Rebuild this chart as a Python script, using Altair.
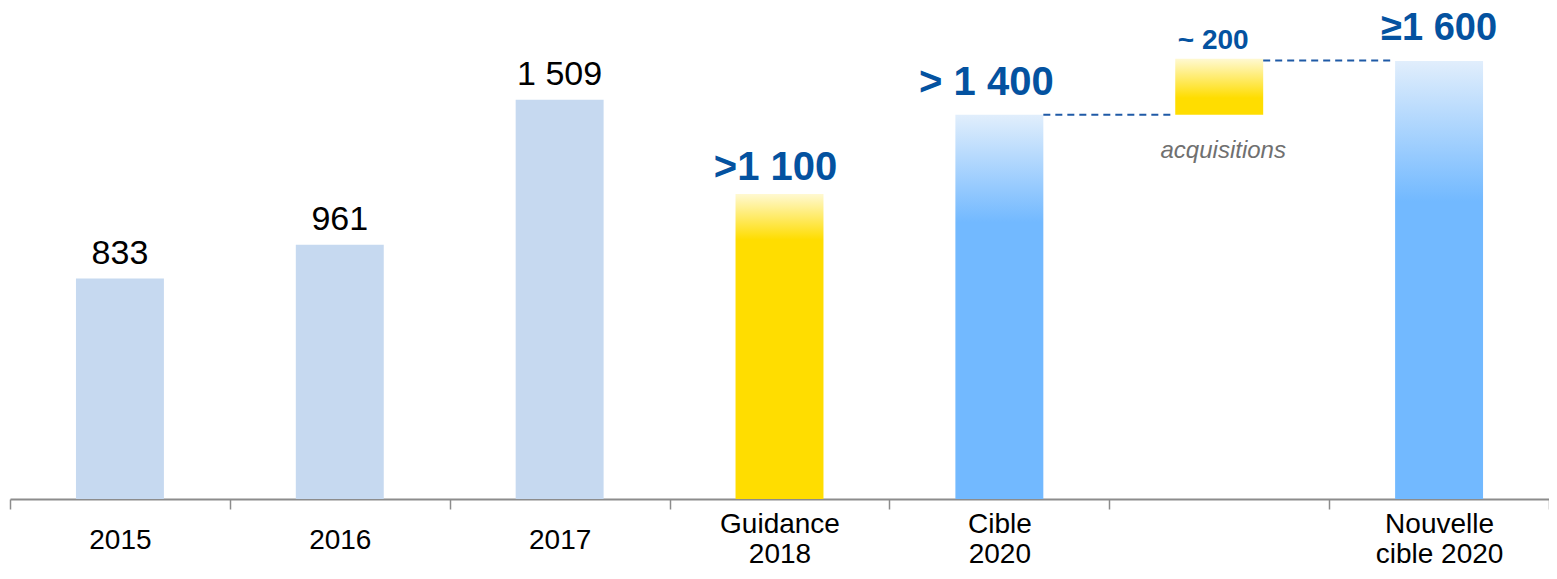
import altair as alt
import pandas as pd

# ---- data ----
categories = ["2015", "2016", "2017", "Guidance|2018", "Cible|2020", "acq", "Nouvelle|cible 2020"]

hist_cats = ["2015", "2016", "2017"]
hist_values = [833, 961, 1509]
hist_labels = ["833", "961", "1 509"]

guidance_value = 1153
guidance_label = ">1 100"

cible_value = 1452
cible_label = "> 1 400"

acq_start = 1452
acq_end = 1664
acq_label = "~ 200"
acq_caption = "acquisitions"

nouvelle_value = 1655
nouvelle_label = "≥1 600"

# dashed connectors: (from category, to category, level)
connectors = [("Cible|2020", "acq", 1452), ("acq", "Nouvelle|cible 2020", 1657)]

# ---- styling ----
FONT = "Liberation Sans"
BLUE_TXT = "#0452A0"
HIST_COLOR = "#C6D9F0"
YELLOW = "#FFDD00"
YELLOW_PALE = "#FFF9D2"
BLUE = "#72B9FF"
BLUE_PALE = "#E1EEFC"

W, H = 1539, 490
YMAX = 1852

xscale = alt.Scale(domain=categories, paddingInner=0, paddingOuter=0)
yscale = alt.Scale(domain=[0, YMAX])

label_expr = ("!isValid(datum.value) || datum.value == 'acq' ? '' : "
              "(indexof(datum.value, '|') >= 0 ? split(datum.value, '|') : datum.value)")
two_line = "isValid(datum.value) && indexof(datum.value, '|') >= 0"

x_axis = alt.Axis(
    title=None, labelExpr=label_expr, labelAngle=0, labelFont=FONT, labelFontSize=28,
    labelColor="#000000", labelLineHeight=30, labelBaseline="middle",
    labelPadding={"condition": {"test": two_line, "value": 15}, "value": 31},
    tickBand="extent", tickSize=10, tickColor="#8C8C8C", tickWidth=1.5,
    domainColor="#8C8C8C", domainWidth=2, labelOverlap=False, labelBound=False,
    grid=False,
)

X = alt.X("cat:N", scale=xscale, axis=x_axis, sort=categories)
Y = alt.Y("v:Q", scale=yscale, axis=None)


def grad(pale, solid, stop):
    return alt.Gradient(
        gradient="linear",
        stops=[alt.GradientStop(color=pale, offset=0),
               alt.GradientStop(color=solid, offset=stop),
               alt.GradientStop(color=solid, offset=1)],
        x1=0, x2=0, y1=0, y2=1,
    )


hist_df = pd.DataFrame({"cat": hist_cats, "v": hist_values, "lab": hist_labels})
guid_df = pd.DataFrame({"cat": ["Guidance|2018"], "v": [guidance_value], "lab": [guidance_label]})
cible_df = pd.DataFrame({"cat": ["Cible|2020"], "v": [cible_value], "lab": [cible_label]})
nouv_df = pd.DataFrame({"cat": ["Nouvelle|cible 2020"], "v": [nouvelle_value], "lab": [nouvelle_label]})
acq_df = pd.DataFrame({"cat": ["acq"], "v": [acq_start], "v2": [acq_end],
                       "lab": [acq_label], "cap": [acq_caption]})
conn_df = pd.DataFrame({"a": [c[0] for c in connectors], "b": [c[1] for c in connectors],
                        "v": [c[2] for c in connectors]})

BW = alt.RelativeBandSize(0.4)

hist_bars = alt.Chart(hist_df).mark_bar(width=BW, color=HIST_COLOR).encode(x=X, y=Y)
hist_text = alt.Chart(hist_df).mark_text(
    font=FONT, fontSize=34, color="#000000", baseline="alphabetic", dy=-15
).encode(x=X, y=Y, text="lab:N")

guid_bar = alt.Chart(guid_df).mark_bar(width=BW, color=grad(YELLOW_PALE, YELLOW, 0.15)).encode(x=X, y=Y)
cible_bar = alt.Chart(cible_df).mark_bar(width=BW, color=grad(BLUE_PALE, BLUE, 0.28)).encode(x=X, y=Y)
nouv_bar = alt.Chart(nouv_df).mark_bar(width=BW, color=grad(BLUE_PALE, BLUE, 0.32)).encode(x=X, y=Y)
acq_bar = alt.Chart(acq_df).mark_bar(width=BW, color=grad(YELLOW_PALE, YELLOW, 0.7)).encode(
    x=X, y=Y, y2="v2:Q")


def big_label(df, dy, dx=0, size=40):
    return alt.Chart(df).mark_text(
        font=FONT, fontSize=size, fontWeight="bold", color=BLUE_TXT,
        baseline="alphabetic", dy=dy, dx=dx
    ).encode(x=X, y=Y, text="lab:N")


guid_text = big_label(guid_df, -14, -4)
cible_text = big_label(cible_df, -20, -13)
nouv_text = big_label(nouv_df, -21, 0, size=38)
acq_text = alt.Chart(acq_df).mark_text(
    font=FONT, fontSize=28, fontWeight="bold", color=BLUE_TXT, baseline="alphabetic", dy=-10, dx=-6
).encode(x=X, y=alt.Y("v2:Q", scale=yscale, axis=None), text="lab:N")
acq_cap = alt.Chart(acq_df).mark_text(
    font=FONT, fontSize=24, fontStyle="italic", color="#707070", baseline="alphabetic", dy=43, dx=4
).encode(x=X, y=Y, text="cap:N")

rules = alt.Chart(conn_df).mark_rule(color="#1F5AA6", strokeWidth=2, strokeDash=[7, 5]).encode(
    x=alt.X("a:N", scale=xscale, bandPosition=0.7, axis=x_axis, sort=categories),
    x2=alt.X2("b:N", bandPosition=0.3),
    y=Y,
)

chart = alt.layer(
    hist_bars, guid_bar, cible_bar, nouv_bar, acq_bar, rules,
    hist_text, guid_text, cible_text, nouv_text, acq_text, acq_cap,
).properties(
    width=W, height=H,
    background="#FFFFFF",
    autosize=alt.AutoSizeParams(type="none"),
    padding={"left": 2, "top": 1, "right": 0, "bottom": 72},
).configure_view(strokeWidth=0, stroke="transparent")

chart.save("out.html", embed_options={"renderer": "svg", "actions": False})
